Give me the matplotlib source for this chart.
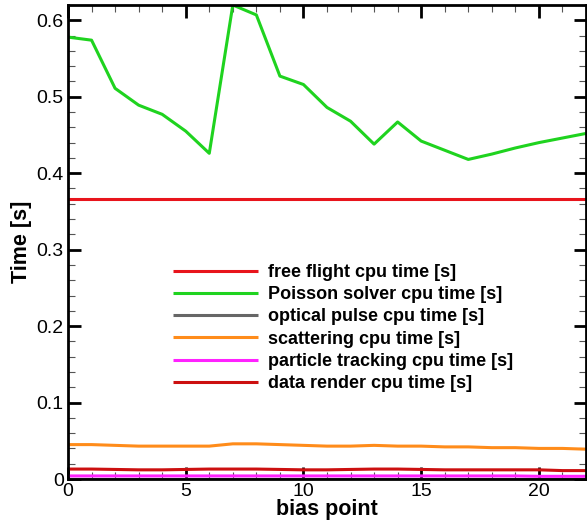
import matplotlib
matplotlib.use("Agg")
import matplotlib.pyplot as plt
from matplotlib.ticker import MultipleLocator, FuncFormatter

plt.rcParams['font.family'] = ['Liberation Sans', 'DejaVu Sans']

bias = list(range(23))
free_flight = [0.366] * 23
poisson = [0.578, 0.574, 0.511, 0.489, 0.477, 0.455, 0.426, 0.620, 0.607, 0.527,
           0.516, 0.486, 0.468, 0.438, 0.467, 0.442, 0.430, 0.418, 0.425, 0.433,
           0.440, 0.446, 0.452]
optical = [0.0005] * 23
scattering = [0.045, 0.045, 0.044, 0.043, 0.043, 0.043, 0.043, 0.046, 0.046, 0.045,
              0.044, 0.043, 0.043, 0.044, 0.043, 0.043, 0.042, 0.042, 0.041, 0.041,
              0.040, 0.040, 0.039]
tracking = [0.004, 0.004, 0.004, 0.004, 0.004, 0.004, 0.004, 0.004, 0.004, 0.004,
            0.004, 0.004, 0.004, 0.004, 0.004, 0.004, 0.004, 0.004, 0.004, 0.004,
            0.0035, 0.0035, 0.0035]
render = [0.013, 0.013, 0.0125, 0.012, 0.012, 0.0125, 0.013, 0.013, 0.013, 0.0125,
          0.012, 0.012, 0.0125, 0.013, 0.013, 0.0125, 0.012, 0.012, 0.012, 0.012,
          0.012, 0.011, 0.011]

labels = ["free flight cpu time [s]", "Poisson solver cpu time [s]",
          "optical pulse cpu time [s]", "scattering cpu time [s]",
          "particle tracking cpu time [s]", "data render cpu time [s]"]
colors = ["#e8141c", "#1fd31f", "#666666", "#ff8c1a", "#ff22ff", "#cc1010"]
series = [free_flight, poisson, optical, scattering, tracking, render]

fig = plt.figure(figsize=(5.87, 5.29), dpi=100)
ax = fig.add_axes([68/587, 50/529, 518/587, 474/529])

for s, c, l in zip(series, colors, labels):
    ax.plot(bias, s, color=c, lw=2.2, label=l, solid_capstyle='butt')

ax.set_xlim(0, 22)
ax.set_ylim(0, 0.62)
ax.xaxis.set_major_locator(MultipleLocator(5))
ax.xaxis.set_minor_locator(MultipleLocator(1))
ax.yaxis.set_major_locator(MultipleLocator(0.1))
ax.yaxis.set_minor_locator(MultipleLocator(0.02))
ax.yaxis.set_major_formatter(FuncFormatter(lambda v, p: '0' if abs(v) < 1e-9 else f'{v:.1f}'))
ax.tick_params(which='both', direction='in', top=True, right=True, labelsize=14, pad=3)
ax.tick_params(which='major', length=9, width=2)
ax.tick_params(which='minor', length=5, width=0.8, color='#555555')
for sp in ax.spines.values():
    sp.set_linewidth(2)

ax.set_xlabel('bias point', fontsize=15.5, fontweight='bold', labelpad=-1)
ax.set_ylabel('Time [s]', fontsize=15.5, fontweight='bold', labelpad=3)

leg = ax.legend(loc='upper left', bbox_to_anchor=(173/587, (529-264)/529),
                bbox_transform=fig.transFigure, frameon=False, borderpad=0,
                borderaxespad=0, handlelength=4.7, handletextpad=0.55,
                labelspacing=0.29, prop={'size': 13, 'weight': 'bold'})

fig.savefig('out.png', dpi=100)
